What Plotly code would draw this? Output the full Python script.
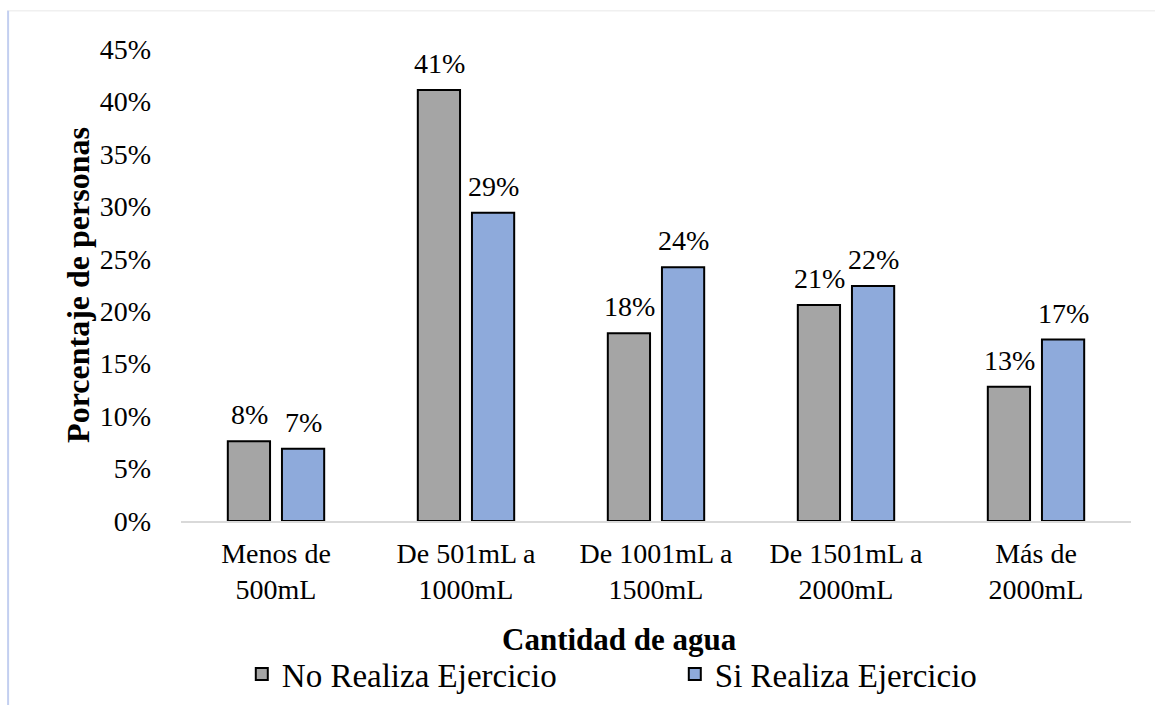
import plotly.graph_objects as go

# Water intake ranges (x categories)
categorias = [
    "Menos de<br>500mL",
    "De 501mL a<br>1000mL",
    "De 1001mL a<br>1500mL",
    "De 1501mL a<br>2000mL",
    "Más de<br>2000mL",
]

# Share of people in each range (fraction of 1)
no_realiza = [0.076, 0.411, 0.179, 0.206, 0.128]
si_realiza = [0.069, 0.294, 0.242, 0.224, 0.173]

series_nombres = ["No Realiza Ejercicio", "Si Realiza Ejercicio"]
y_ticks = [0, 0.05, 0.10, 0.15, 0.20, 0.25, 0.30, 0.35, 0.40, 0.45]

FONT = "Liberation Serif, Times New Roman, serif"
GRIS = "#a5a5a5"
AZUL = "#8eaadb"

fig = go.Figure()
series = [
    (series_nombres[0], no_realiza, GRIS, -27),
    (series_nombres[1], si_realiza, AZUL, 27),
]
for nombre, valores, color, _ in series:
    fig.add_trace(
        go.Bar(
            name=nombre,
            x=categorias,
            y=valores,
            marker=dict(color=color, line=dict(color="black", width=2)),
        )
    )

# value labels above each bar
anotaciones = []
for _, valores, _, dx in series:
    for cat, v in zip(categorias, valores):
        anotaciones.append(
            dict(
                x=cat, y=v, xref="x", yref="y",
                text=f"{v:.0%}",
                showarrow=False,
                xshift=dx, yshift=9,
                yanchor="bottom",
                font=dict(family=FONT, size=28, color="black"),
            )
        )

# x-axis title
anotaciones.append(
    dict(
        x=0.462, y=-0.25, xref="paper", yref="paper",
        text="<b>Cantidad de agua</b>",
        showarrow=False,
        xanchor="center", yanchor="middle",
        font=dict(family=FONT, size=31, color="black"),
    )
)

fig.update_layout(
    width=1155,
    height=705,
    margin=dict(l=181, r=24, t=49, b=184, autoexpand=False),
    paper_bgcolor="white",
    plot_bgcolor="white",
    font=dict(family=FONT, size=28, color="black"),
    barmode="group",
    bargap=0.43,
    bargroupgap=0.22,
    showlegend=True,
    annotations=anotaciones,
    legend=dict(
        orientation="h",
        x=0.064,
        xanchor="left",
        y=-0.265,
        yanchor="top",
        font=dict(family=FONT, size=33, color="black"),
        entrywidth=388,
        entrywidthmode="pixels",
        itemwidth=30,
        bgcolor="rgba(0,0,0,0)",
    ),
    xaxis=dict(
        automargin=False,
        showgrid=False,
        showline=True,
        linecolor="#d9d9d9",
        linewidth=2,
        ticks="",
        tickfont=dict(family=FONT, size=28, color="black"),
        ticklabelstandoff=6,
    ),
    yaxis=dict(
        automargin=False,
        range=[0, 0.45],
        tickvals=y_ticks,
        tickformat=".0%",
        showgrid=False,
        zeroline=False,
        showline=False,
        ticks="",
        tickfont=dict(family=FONT, size=28, color="black"),
        ticklabelstandoff=29,
        title=dict(
            text="<b>Porcentaje de personas</b>",
            font=dict(family=FONT, size=32, color="black"),
            standoff=0,
        ),
    ),
    shapes=[
        # thin frame around the chart area
        dict(type="line", xref="paper", yref="paper",
             x0=-0.183, x1=1.03, y0=1.081, y1=1.081,
             line=dict(color="#f0f0f0", width=1.5)),
        dict(type="line", xref="paper", yref="paper",
             x0=-0.182, x1=-0.182, y0=1.081, y1=-0.40,
             line=dict(color="#c3cff0", width=2)),
    ],
)

fig.write_html("out.html")
